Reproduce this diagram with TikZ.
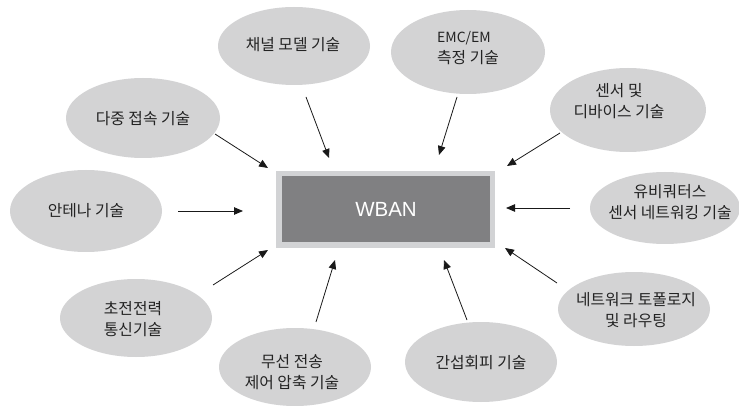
\documentclass[tikz,border=0pt]{standalone}
\usepackage{fontspec}
\setmainfont{Noto Sans CJK KR}
\newfontfamily\wbanfont{Liberation Sans}
\usetikzlibrary{shapes.geometric,arrows.meta}
\definecolor{blobgray}{RGB}{211,211,212}
\definecolor{boxouter}{RGB}{210,211,213}
\definecolor{boxinner}{RGB}{128,128,130}
\definecolor{txtgray}{RGB}{35,35,35}
\tikzset{
  blob/.style={ellipse, fill=blobgray, draw=none, inner sep=0pt},
  blobtxt/.style={font=\fontsize{15.8}{20.5}\selectfont, text=txtgray, align=center, inner sep=0pt},
  conn/.style={-{Triangle[length=9pt,width=7.5pt]}, line width=0.8pt, black!90},
}
\begin{document}
\begin{tikzpicture}[x=1pt,y=-1pt]
\useasboundingbox (0,0) rectangle (739,406);
% central box
\node[fill=boxouter, minimum width=219pt, minimum height=77pt, inner sep=0pt] (wbanouter) at (385.5,209.5) {};
\node[fill=boxinner, minimum width=208pt, minimum height=66pt, inner sep=0pt, text=white, font=\wbanfont\fontsize{20.5}{24}\selectfont] (wban) at (386,209) {WBAN};
% ellipses
\node[blob, minimum width=152pt, minimum height=78pt] (e1) at (294,46) {};
\node[blob, minimum width=154pt, minimum height=80pt] (e2) at (143,118) {};
\node[blob, minimum width=154pt, minimum height=84pt] (e3) at (468,52) {};
\node[blob, minimum width=156pt, minimum height=84pt] (e4) at (628,110) {};
\node[blob, minimum width=150pt, minimum height=72pt] (e5) at (665,208) {};
\node[blob, minimum width=152pt, minimum height=74pt] (e6) at (634,309) {};
\node[blob, minimum width=152pt, minimum height=80pt] (e7) at (481,362) {};
\node[blob, minimum width=152pt, minimum height=78pt] (e8) at (295,367) {};
\node[blob, minimum width=152pt, minimum height=78pt] (e9) at (136,318) {};
\node[blob, minimum width=152pt, minimum height=82pt] (e10) at (86,211) {};
% texts
\node[blobtxt] (t1) at (293,45) {채널 모델 기술};
\node[blobtxt] (t2) at (143,119) {다중 접속 기술};
\node[blobtxt, align=left] (t3) at (468,48) {{\fontsize{14}{20.5}\selectfont EMC/EM}\\측정 기술};
\node[blobtxt] (t4) at (619,101) {센서 및\\디바이스 기술};
\node[blobtxt] (t5) at (670,202) {유비쿼터스\\센서 네트워킹 기술};
\node[blobtxt] (t6) at (636,310) {네트워크 토폴로지\\및 라우팅};
\node[blobtxt] (t7) at (481,363) {간섭회피 기술};
\node[blobtxt] (t8) at (292,372) {무선 전송\\제어 압축 기술};
\node[blobtxt] (t9) at (133,319) {초전전력\\통신기술};
\node[blobtxt] (t10) at (86,211) {안테나 기술};
% arrow end points
\coordinate (s1) at (306,97);  \coordinate (d1) at (329,158);
\coordinate (s2) at (215,134); \coordinate (d2) at (268,168);
\coordinate (s3) at (457,97);  \coordinate (d3) at (439,155);
\coordinate (s4) at (560,133); \coordinate (d4) at (507,166);
\coordinate (s5) at (570,208); \coordinate (d5) at (506,208);
\coordinate (s6) at (557,283); \coordinate (d6) at (505,248);
\coordinate (s7) at (467,320); \coordinate (d7) at (444,260);
\coordinate (s8) at (316,322); \coordinate (d8) at (335,260);
\coordinate (s9) at (213,285); \coordinate (d9) at (268,250);
\coordinate (s10) at (178,211); \coordinate (d10) at (243,211);
\foreach \i in {1,...,10} { \draw[conn] (s\i) -- (d\i); }
\end{tikzpicture}
\end{document}
